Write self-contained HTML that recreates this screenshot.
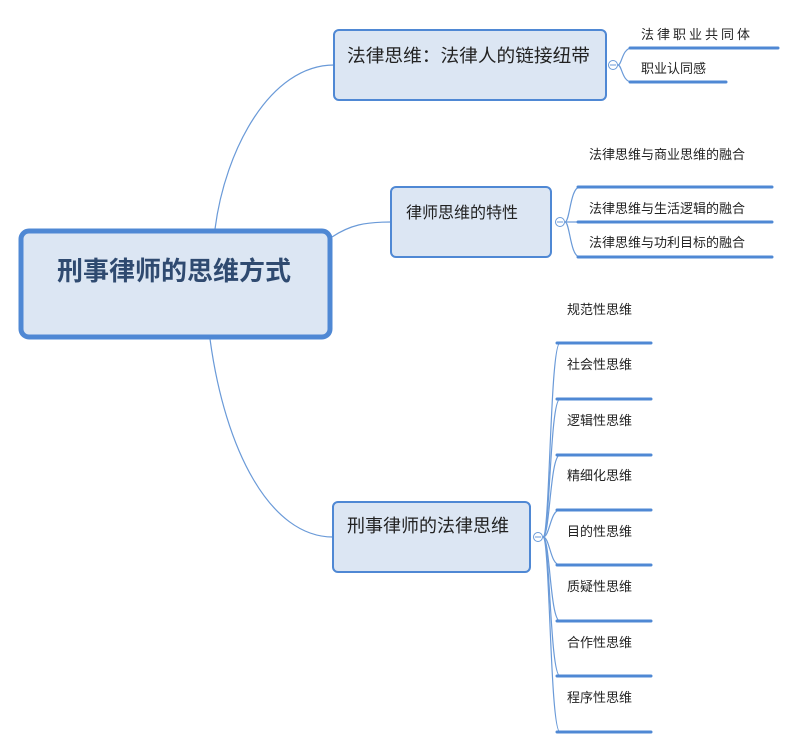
<!DOCTYPE html>
<html><head><meta charset="utf-8"><style>
html,body{margin:0;padding:0;background:#fff;}
svg{display:block;}
text{font-family:"Liberation Sans","Noto Sans CJK SC",sans-serif;fill:#222;}
</style></head><body>
<svg width="800" height="750" viewBox="0 0 800 750" xmlns="http://www.w3.org/2000/svg">
<g fill="none" stroke="#6a9ad8" stroke-width="1.2">
<path d="M215 229 C 225 150, 270 65, 334 65"/>
<path d="M332 237 C 350 225, 365 222, 391 222"/>
<path d="M210 339 C 225 450, 270 537, 333 537"/>
<path d="M618 65 C 622 65, 622 48, 632 48"/>
<path d="M618 65 C 622 65, 622 82, 632 82"/>
<path d="M565 222 C 570 222, 570 187, 580 187"/>
<path d="M565 222 L 580 222"/>
<path d="M565 222 C 570 222, 570 257, 580 257"/>
<path d="M543 537 C 550 537, 550 343, 560 343"/>
<path d="M543 537 C 550 537, 550 399, 560 399"/>
<path d="M543 537 C 550 537, 550 455, 560 455"/>
<path d="M543 537 C 550 537, 550 510, 560 510"/>
<path d="M543 537 C 550 537, 550 565, 560 565"/>
<path d="M543 537 C 550 537, 550 621, 560 621"/>
<path d="M543 537 C 550 537, 550 676, 560 676"/>
<path d="M543 537 C 550 537, 550 732, 560 732"/>
</g>
<g stroke="#4f88d4" stroke-width="3" stroke-linecap="round">
<line x1="630" y1="48" x2="778" y2="48"/>
<line x1="630" y1="82" x2="726" y2="82"/>
<line x1="578" y1="187" x2="772" y2="187"/>
<line x1="578" y1="222" x2="772" y2="222"/>
<line x1="578" y1="257" x2="772" y2="257"/>
<line x1="557" y1="343" x2="651" y2="343"/>
<line x1="557" y1="399" x2="651" y2="399"/>
<line x1="557" y1="455" x2="651" y2="455"/>
<line x1="557" y1="510" x2="651" y2="510"/>
<line x1="557" y1="565" x2="651" y2="565"/>
<line x1="557" y1="621" x2="651" y2="621"/>
<line x1="557" y1="676" x2="651" y2="676"/>
<line x1="557" y1="732" x2="651" y2="732"/>
</g>
<g fill="#dce6f3" stroke="#4f88d4">
<rect x="21" y="231" width="309" height="106" rx="8" stroke-width="5"/>
<rect x="334" y="30" width="272" height="70" rx="5" stroke-width="2"/>
<rect x="391" y="187" width="160" height="70" rx="5" stroke-width="2"/>
<rect x="333" y="502" width="197" height="70" rx="5" stroke-width="2"/>
</g>
<g fill="#fff" stroke="#6a9ad8" stroke-width="1">
<circle cx="613" cy="65" r="4.5"/><line x1="610" y1="65" x2="616" y2="65"/>
<circle cx="560" cy="222" r="4.5"/><line x1="557" y1="222" x2="563" y2="222"/>
<circle cx="538" cy="537" r="4.5"/><line x1="535" y1="537" x2="541" y2="537"/>
</g>
<text x="174" y="280" text-anchor="middle" font-size="26" font-weight="bold" style="fill:#2f4a70">刑事律师的思维方式</text>
<text x="347" y="62" font-size="18" textLength="243" lengthAdjust="spacingAndGlyphs">法律思维：法律人的链接纽带</text>
<text x="406" y="218" font-size="16">律师思维的特性</text>
<text x="347" y="532" font-size="18">刑事律师的法律思维</text>
<g font-size="13">
<text x="641" y="39" letter-spacing="3">法律职业共同体</text>
<text x="641" y="73">职业认同感</text>
<text x="589" y="159">法律思维与商业思维的融合</text>
<text x="589" y="213">法律思维与生活逻辑的融合</text>
<text x="589" y="247">法律思维与功利目标的融合</text>
<text x="567" y="314">规范性思维</text>
<text x="567" y="369">社会性思维</text>
<text x="567" y="425">逻辑性思维</text>
<text x="567" y="480">精细化思维</text>
<text x="567" y="536">目的性思维</text>
<text x="567" y="591">质疑性思维</text>
<text x="567" y="647">合作性思维</text>
<text x="567" y="702">程序性思维</text>
</g>
</svg>
</body></html>
